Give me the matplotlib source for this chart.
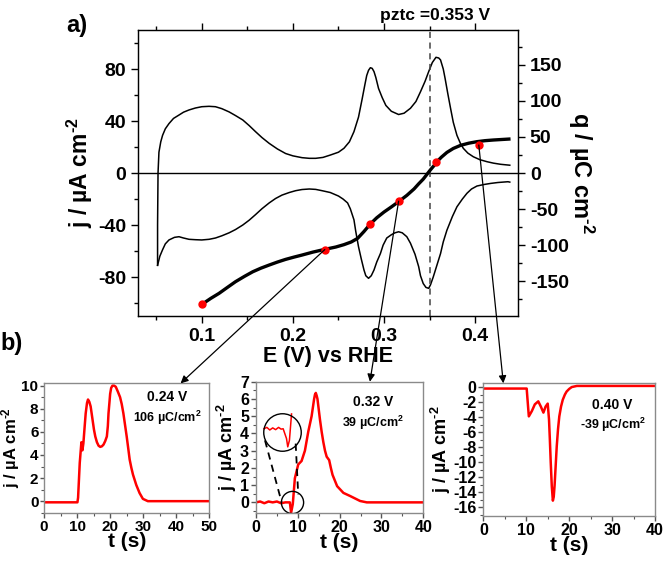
import numpy as np
import matplotlib
matplotlib.use("Agg")
import matplotlib.pyplot as plt
from matplotlib.patches import ConnectionPatch
from matplotlib.ticker import MultipleLocator

plt.rcParams['font.family'] = ['Liberation Sans', 'DejaVu Sans']
plt.rcParams['font.weight'] = 'bold'
plt.rcParams['axes.unicode_minus'] = False
plt.rcParams['mathtext.fontset'] = 'custom'
plt.rcParams['mathtext.rm'] = 'Liberation Sans:bold'
plt.rcParams['mathtext.bf'] = 'Liberation Sans:bold'
plt.rcParams['mathtext.default'] = 'bf'

# ---- CV (panel a) ----
# anodic sweep
E_up = [0.0515, 0.0515, 0.052, 0.053, 0.055, 0.057, 0.060, 0.064, 0.069, 0.075, 0.080, 0.086,
        0.093, 0.100, 0.108, 0.115, 0.122, 0.130, 0.137, 0.145, 0.152, 0.159, 0.166, 0.174,
        0.183, 0.192, 0.200, 0.210, 0.218, 0.225, 0.233, 0.241, 0.250, 0.256, 0.262, 0.267,
        0.272, 0.276, 0.279, 0.281, 0.283, 0.285, 0.287, 0.289, 0.291, 0.294, 0.298, 0.302,
        0.308, 0.316, 0.322, 0.329, 0.335, 0.340, 0.345, 0.349, 0.353, 0.357, 0.360, 0.362,
        0.365, 0.367, 0.370, 0.373, 0.376, 0.380, 0.384, 0.387, 0.392, 0.398, 0.405, 0.413,
        0.420, 0.428, 0.438]
j_up = [-71, -40, 0, 16, 24, 29, 34, 38, 42, 44.6, 46.8, 48.5,
        50, 51, 51.3, 51, 49.5, 47, 44.2, 40.8, 36.5, 31.8, 27.3, 22.8,
        18.5, 15, 13.2, 11.8, 11.3, 11.3, 12, 13.8, 16, 19, 24, 31.8,
        43, 57, 68, 75, 79, 81, 80.5, 78, 73.5, 65, 58, 52,
        47.5, 45, 46, 49.8, 55, 62.5, 70.5, 78, 85, 89, 88.5, 87,
        80, 72.8, 61, 49.8, 39, 29, 22.5, 19, 15.3, 12.5, 10.3, 8.7,
        7.6, 6.7, 6.0]
# cathodic sweep
E_down = [0.438, 0.436, 0.425, 0.417, 0.410, 0.402, 0.396, 0.391, 0.386, 0.380, 0.375, 0.369,
          0.365, 0.362, 0.358, 0.354, 0.351, 0.349, 0.346, 0.343, 0.340, 0.338, 0.334, 0.329,
          0.325, 0.320, 0.316, 0.312, 0.308, 0.303, 0.299, 0.296, 0.292, 0.289, 0.286, 0.283,
          0.280, 0.278, 0.275, 0.272, 0.269, 0.267, 0.263, 0.260, 0.255, 0.250, 0.241, 0.232,
          0.225, 0.218, 0.210, 0.203, 0.196, 0.188, 0.181, 0.174, 0.166, 0.159, 0.152, 0.145,
          0.137, 0.130, 0.122, 0.115, 0.108, 0.100, 0.093, 0.086, 0.080, 0.075, 0.070, 0.064,
          0.060, 0.057, 0.054, 0.0515]
j_down = [-7, -6.7, -7.3, -8, -8.8, -10, -12.3, -15.6, -20, -26, -33.5, -44,
          -53, -62, -71, -80, -86, -88.7, -88, -85, -79, -72, -62.5, -54,
          -49, -46, -45.2, -46, -47.5, -50, -55.5, -62, -68.5, -74.6, -79, -81,
          -79, -74.6, -66, -56.7, -45, -36, -27.5, -23, -20, -17.7, -15, -13.6,
          -12.6, -12.3, -12.7, -13.6, -15, -17, -19.6, -23, -27.5, -32, -36.3, -40,
          -43.5, -46, -48.3, -50, -51, -51.5, -51.3, -51, -50, -49, -49.5, -51.5,
          -54.5, -59, -64, -71]

# charge curve (right axis)
E_q = [0.100, 0.110, 0.119, 0.128, 0.137, 0.147, 0.156, 0.165, 0.174, 0.183, 0.192, 0.201,
       0.210, 0.222, 0.235, 0.247, 0.256, 0.264, 0.271, 0.278, 0.285, 0.292, 0.300, 0.308,
       0.316, 0.325, 0.333, 0.338, 0.343, 0.347, 0.351, 0.355, 0.358, 0.363, 0.369, 0.376,
       0.384, 0.393, 0.402, 0.411, 0.420, 0.437]
q = [-182, -173.5, -166.6, -158.5, -150.5, -143, -136.7, -131.7, -127.4, -123.3, -119.6, -116.5,
     -113.6, -109.5, -105.7, -102.5, -99.2, -95.5, -90.5, -81, -70.5, -62, -54, -47,
     -39.7, -31, -22, -15, -8.5, -2, 4.5, 10.5, 15.6, 22, 28.5, 34,
     38.3, 41.3, 43.4, 44.8, 45.7, 47]
E_dots = [0.100, 0.235, 0.285, 0.316, 0.357, 0.404]
q_dots = [-182, -106, -71, -39, 15.7, 38.8]
pztc = 0.353

# ---- transients (panel b) ----
t1 = [0, 10.1, 10.3, 10.8, 11.3, 11.6, 11.9, 12.3, 12.6, 13.0, 13.3, 13.7, 14.1, 14.6, 15.1,
      15.5, 16.0, 16.5, 17.0, 17.5, 18.0, 18.5, 19.0, 19.3, 19.5, 19.8, 20.0, 20.3, 20.7,
      21.2, 21.7, 22.3, 23.0, 23.5, 24.0, 24.5, 25.0, 25.5, 25.9, 26.4, 26.9, 27.9, 28.9,
      29.9, 31.4, 50]
j1 = [-0.1, -0.1, 0.3, 3.3, 5.1, 4.4, 5.0, 6.5, 7.6, 8.5, 8.8, 8.6, 8.2, 7.2, 6.2,
      5.6, 5.1, 4.8, 4.7, 4.75, 4.9, 5.2, 5.6, 6.5, 7.6, 8.6, 9.3, 9.8, 10.0,
      10.0, 9.9, 9.5, 9.0, 8.4, 7.6, 6.6, 5.6, 4.5, 3.6, 2.9, 2.3, 1.4, 0.7,
      0.2, 0.0, 0.0]

t2 = [0, 1, 2, 3, 4, 5, 6, 7, 8.1, 8.4, 8.8, 9.3, 10.1, 10.9, 11.7, 12.5, 13.3, 13.6, 13.9,
      14.1, 14.3, 14.5, 14.7, 15.0, 15.3, 15.7, 16.1, 16.5, 16.9, 17.2, 17.5, 17.9, 18.3,
      19.4, 20.9, 22.5, 24.9, 26.5, 40]
j2 = [0.0, 0.05, -0.05, 0.05, 0.0, 0.05, -0.05, 0.0, 0.0, -0.6, -0.1, 1.4, 2.2, 2.4, 3.0,
      4.1, 5.0, 5.5, 6.0, 6.25, 6.35, 6.2, 6.0, 5.4, 4.8, 4.1, 3.5, 3.0, 2.65, 2.55, 2.45,
      2.0, 1.6, 0.94, 0.55, 0.37, 0.08, 0.0, 0.0]
# magnified piece shown in the circle
t2_zoom = [1.9, 2.6, 3.3, 4.0, 4.7, 5.4, 6.0, 6.5, 7.3, 7.6, 8.0, 8.5]
j2_zoom = [4.27, 4.35, 4.2, 4.32, 4.22, 4.35, 4.25, 4.27, 3.7, 3.22, 3.6, 5.13]

t3 = [0, 10.1, 10.3, 10.6, 11.3, 12.0, 12.8, 13.4, 14.0, 14.5, 15.0, 15.3, 15.5, 15.7, 15.95,
      16.2, 16.4, 16.6, 16.85, 17.1, 17.4, 17.7, 18.1, 18.5, 19.0, 19.4, 20.0, 20.6, 21.8, 40]
j3 = [-0.2, -0.2, -1.7, -3.9, -3.2, -2.3, -1.9, -2.6, -3.4, -2.6, -2.2, -4.3, -7.0, -10.0, -13.2,
      -15.1, -14.6, -13.1, -10.5, -7.9, -5.6, -3.9, -2.6, -1.7, -1.0, -0.6, -0.25, 0.0, 0.15, 0.15]

fig = plt.figure(figsize=(6.64, 5.62), dpi=100)

# ---------------- panel a ----------------
ax = fig.add_axes([0.2078, 0.4377, 0.5723, 0.5089])
ax.plot(E_up, j_up, color='k', lw=1.1)
ax.plot(E_down, j_down, color='k', lw=1.1)
ax.axhline(0, color='k', lw=1.0)
ax.axvline(pztc - 0.003, color='#444444', lw=1.1, ls=(0, (4, 3)))
ax.set_xlim(0.03, 0.447)
ax.set_ylim(-110, 110)
ax.xaxis.set_major_locator(MultipleLocator(0.1))
ax.xaxis.set_minor_locator(MultipleLocator(0.05))
ax.yaxis.set_major_locator(MultipleLocator(40))
ax.yaxis.set_minor_locator(MultipleLocator(20))
ax.tick_params(axis='both', which='major', labelsize=14, direction='out', length=5, width=1)
ax.tick_params(axis='both', which='minor', direction='out', length=3, width=1)
ax.tick_params(axis='x', which='both', top=True, labeltop=False)
ax.set_xlabel('E (V) vs RHE', fontsize=15.5, fontweight='bold', labelpad=1)
ax.set_ylabel('j / µA cm$^{\u20102}$', fontsize=16.5, fontweight='bold', labelpad=2)
for s in ax.spines.values():
    s.set_linewidth(1.0)
    s.set_color('#222222')

axq = ax.twinx()
axq.plot(E_q, q, color='k', lw=2.4)
axq.plot(E_dots, q_dots, 'o', color='red', ms=5, zorder=5)
axq.set_ylim(-198, 198)
axq.yaxis.set_major_locator(MultipleLocator(50))
axq.yaxis.set_minor_locator(MultipleLocator(25))
axq.tick_params(axis='y', which='major', labelsize=14, direction='out', length=5, width=1)
axq.tick_params(axis='y', which='minor', direction='out', length=3, width=1)
axq.set_ylabel('q / µC cm$^{\u20102}$', fontsize=17, fontweight='bold', rotation=270, labelpad=20)

fig.text(0.655, 0.973, 'pztc =0.353 V', fontsize=12.5, fontweight='bold', ha='center', va='center')
fig.text(0.100, 0.975, 'a)', fontsize=17, fontweight='bold', ha='left', va='top')
fig.text(0.0, 0.41, 'b)', fontsize=17, fontweight='bold', ha='left', va='top')

# ---------------- panel b ----------------
def style_inset(a, ylab_pad=1, tick_size=11.5):
    for s in a.spines.values():
        s.set_color('#8a8a8a')
        s.set_linewidth(1.0)
    a.tick_params(axis='both', which='major', labelsize=tick_size, direction='out', length=3.5, width=1,
                  color='#555555', pad=1.5)
    a.tick_params(axis='both', which='minor', direction='out', length=2, width=0.8, color='#555555')
    a.set_xlabel('t (s)', fontsize=15, fontweight='bold', labelpad=-1)
    a.set_ylabel('j / µA cm$^{\u20102}$', fontsize=13, fontweight='bold', labelpad=ylab_pad)

ins1 = fig.add_axes([0.0663, 0.0877, 0.2490, 0.2302])
ins1.plot(t1, j1, color='red', lw=1.8)
ins1.set_xlim(0, 50)
ins1.set_ylim(-1, 10.2)
ins1.xaxis.set_major_locator(MultipleLocator(10))
ins1.xaxis.set_minor_locator(MultipleLocator(5))
ins1.yaxis.set_major_locator(MultipleLocator(2))
ins1.yaxis.set_minor_locator(MultipleLocator(1))
style_inset(ins1, tick_size=11)
ins1.tick_params(axis='y', which='major', length=3, pad=1)
ins1.yaxis.label.set_fontsize(12)
ins1.yaxis.set_label_coords(-0.133, 0.5)
ins1.text(0.747, 0.896, '0.24 V', transform=ins1.transAxes, fontsize=10, ha='center', va='center')
ins1.text(0.747, 0.73, '106 µC/cm$^{2}$', transform=ins1.transAxes, fontsize=9, ha='center', va='center')

ins2 = fig.add_axes([0.3855, 0.0877, 0.2520, 0.2331])
ins2.plot(t2, j2, color='red', lw=1.8)
ins2.plot(t2_zoom, j2_zoom, color='red', lw=1.1)
ins2.plot([8.54], [0.0], 'o', ms=16, mfc='none', mec='k', mew=1.0)
ins2.plot([6.29], [4.08], 'o', ms=27, mfc='none', mec='k', mew=1.0)
ins2.plot([2.15, 6.14], [3.6, 0.0], color='k', lw=1.3, ls=(0, (4, 3)))
ins2.plot([9.49, 10.1], [3.41, 0.46], color='k', lw=1.3, ls=(0, (4, 3)))
ins2.set_xlim(0, 40)
ins2.set_ylim(-0.6, 7)
ins2.xaxis.set_major_locator(MultipleLocator(10))
ins2.xaxis.set_minor_locator(MultipleLocator(5))
ins2.yaxis.set_major_locator(MultipleLocator(1))
ins2.yaxis.set_minor_locator(MultipleLocator(0.5))
style_inset(ins2)
ins2.text(0.701, 0.845, '0.32 V', transform=ins2.transAxes, fontsize=10, ha='center', va='center')
ins2.text(0.701, 0.685, '39 µC/cm$^{2}$', transform=ins2.transAxes, fontsize=9, ha='center', va='center')

ins3 = fig.add_axes([0.7279, 0.0824, 0.2586, 0.2356])
ins3.plot(t3, j3, color='red', lw=1.8)
ins3.set_xlim(0, 40)
ins3.set_ylim(-17.1, 0.5)
ins3.xaxis.set_major_locator(MultipleLocator(10))
ins3.xaxis.set_minor_locator(MultipleLocator(5))
ins3.yaxis.set_major_locator(MultipleLocator(2))
ins3.yaxis.set_minor_locator(MultipleLocator(1))
style_inset(ins3, ylab_pad=0)
ins3.text(0.748, 0.836, '0.40 V', transform=ins3.transAxes, fontsize=10, ha='center', va='center')
ins3.text(0.757, 0.685, '-39 µC/cm$^{2}$', transform=ins3.transAxes, fontsize=9, ha='center', va='center')

# arrows from the charge points to the transients
for (e, qq), (ins, xf) in zip([(E_dots[1], q_dots[1]), (E_dots[3], q_dots[3]), (E_dots[5], q_dots[5])],
                              [(ins1, 0.826), (ins2, 0.681), (ins3, 0.1165)]):
    con = ConnectionPatch(xyA=(e, qq), coordsA=axq.transData, xyB=(xf, 1.0), coordsB=ins.transAxes,
                          arrowstyle='-|>', mutation_scale=11, lw=0.9, color='k', zorder=10)
    fig.add_artist(con)

fig.savefig('out.png', dpi=100)
